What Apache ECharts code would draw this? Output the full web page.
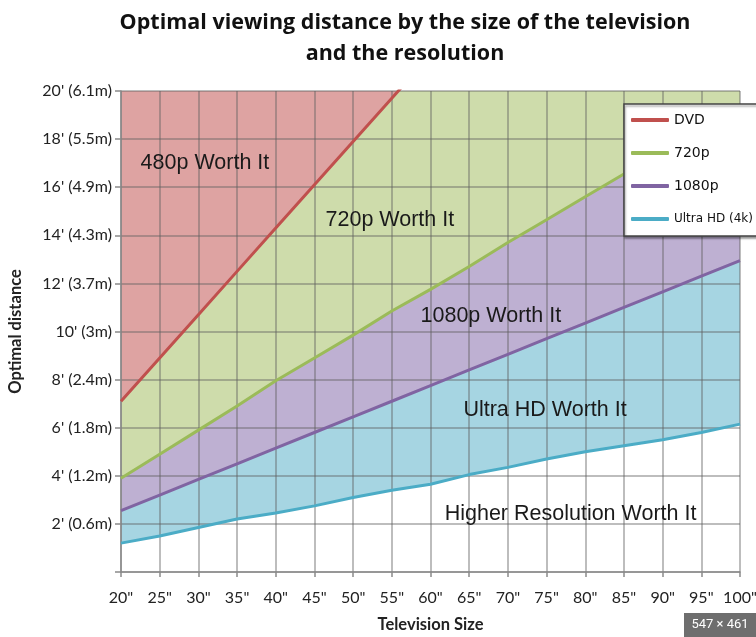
<!DOCTYPE html>
<html>
<head>
<meta charset="utf-8">
<script src="https://cdn.jsdelivr.net/npm/echarts@6/dist/echarts.min.js"></script>
<style>
  html, body { margin: 0; padding: 0; background: #ffffff; }
  #chart { width: 756px; height: 637px; }
</style>
</head>
<body>
<div id="chart"></div>
<script>
// Television size (inches)
const sizes = [20, 25, 30, 35, 40, 45, 50, 55, 60, 65, 70, 75, 80, 85, 90, 95, 100];
// Optimal distance (feet) for each resolution line
const dvd   = [7.1, 8.9, 10.7, 12.5, 14.3, 16.1, 17.9, 19.7, 21.5, null, null, null, null, null, null, null, null];
const p720  = [3.9, 4.9, 5.9, 6.9, 7.95, 8.9, 9.85, 10.85, 11.75, 12.7, 13.7, 14.65, 15.6, 16.55, 17.5, 18.45, 19.4];
const p1080 = [2.55, 3.2, 3.85, 4.5, 5.15, 5.8, 6.45, 7.1, 7.75, 8.4, 9.05, 9.7, 10.35, 11.0, 11.65, 12.3, 12.95];
const uhd   = [1.2, 1.5, 1.85, 2.2, 2.45, 2.75, 3.1, 3.4, 3.65, 4.05, 4.35, 4.7, 5.0, 5.25, 5.5, 5.8, 6.15];

const seriesNames = ['DVD', '720p', '1080p', 'Ultra HD (4k)'];
// Y tick labels keyed by feet
const yTickValues = [2, 4, 6, 8, 10, 12, 14, 16, 18, 20];
const yTickLabels = ["2' (0.6m)", "4' (1.2m)", "6' (1.8m)", "8' (2.4m)", "10' (3m)", "12' (3.7m)", "14' (4.3m)", "16' (4.9m)", "18' (5.5m)", "20' (6.1m)"];

// Region annotations [x inches, y feet]
const regionNames = ['480p Worth It', '720p Worth It', '1080p Worth It', 'Ultra HD Worth It', 'Higher Resolution Worth It'];
const regionX = [30.85, 54.75, 67.8, 74.8, 78.1];
const regionY = [17.0, 14.65, 10.65, 6.75, 2.42];

const zip = (vals) => sizes.map((s, i) => [s, vals[i]]);

const lineColors = ['#C0504D', '#9BBB59', '#8064A2', '#4BACC6'];
const fillRed = '#DEA3A2';
const fillGreen = '#CEDCAB';
const fillPurple = '#BEB0D2';
const fillBlue = '#A6D5E2';

const chart = echarts.init(document.getElementById('chart'), null, { renderer: 'canvas' });

const axisFont = 'Lato, "Open Sans", sans-serif';

const option = {
  animation: false,
  backgroundColor: '#ffffff',
  title: {
    text: 'Optimal viewing distance by the size of the television\nand the resolution',
    left: 400,
    top: 2,
    textAlign: 'center',
    textStyle: {
      fontFamily: '"Open Sans", Lato, sans-serif',
      fontWeight: 'bold',
      fontSize: 21.5,
      lineHeight: 31,
      color: '#111111'
    }
  },
  grid: {
    left: 121, top: 91, width: 619, height: 481,
    outerBoundsMode: 'none',
    containLabel: false,
    show: true, backgroundColor: fillGreen, borderWidth: 0
  },
  legend: {
    data: seriesNames,
    orient: 'vertical',
    left: 624,
    top: 104,
    padding: [8, 40, 9, 7],
    itemWidth: 38,
    itemHeight: 4,
    itemGap: 17,
    icon: 'roundRect',
    backgroundColor: '#ffffff',
    borderColor: '#444444',
    borderWidth: 1.5,
    borderRadius: 0,
    shadowColor: 'rgba(0,0,0,0.35)',
    shadowBlur: 2,
    shadowOffsetX: 1,
    shadowOffsetY: 2,
    selectedMode: false,
    formatter: function (name) {
      return name === 'Ultra HD (4k)' ? '{s|' + name + '}' : name;
    },
    textStyle: {
      fontFamily: '"DejaVu Sans", sans-serif',
      fontSize: 14,
      lineHeight: 16,
      color: '#111111',
      rich: {
        s: { fontFamily: '"DejaVu Sans", sans-serif', fontSize: 12, lineHeight: 16, color: '#111111' }
      }
    }
  },
  xAxis: {
    type: 'value',
    min: 20, max: 100, interval: 5,
    z: 2,
    name: 'Television Size',
    nameLocation: 'middle',
    nameGap: 44,
    nameTextStyle: { fontFamily: axisFont, fontWeight: 'bold', fontSize: 16.5, color: '#222' },
    axisLine: { show: true, lineStyle: { color: '#8a8a8a', width: 1.5 } },
    axisTick: { show: true, length: 5, lineStyle: { color: '#8a8a8a', width: 1.5 } },
    axisLabel: {
      margin: 18,
      fontFamily: axisFont,
      fontSize: 16,
      color: '#222',
      hideOverlap: false,
      formatter: v => v + '"'
    },
    splitLine: { show: true, lineStyle: { color: 'rgba(95,95,95,0.55)', width: 1.5 } }
  },
  yAxis: {
    type: 'value',
    min: 0, max: 20, interval: 2,
    z: 2,
    name: 'Optimal distance',
    nameLocation: 'middle',
    nameGap: 97,
    nameTextStyle: { fontFamily: axisFont, fontWeight: 'bold', fontSize: 16.5, color: '#222' },
    axisLine: { show: true, lineStyle: { color: '#8a8a8a', width: 1.5 } },
    axisTick: { show: true, length: 6, lineStyle: { color: '#8a8a8a', width: 1.5 } },
    axisLabel: {
      margin: 9,
      fontFamily: axisFont,
      fontSize: 16,
      color: '#222',
      formatter: v => {
        const i = yTickValues.indexOf(v);
        return i >= 0 ? yTickLabels[i] : '';
      }
    },
    splitLine: { show: true, lineStyle: { color: 'rgba(95,95,95,0.55)', width: 1.5 } }
  },
  series: [
    // Areas
    { name: 'areaDVD', type: 'line', data: zip(dvd), symbol: 'none', z: 1,
      lineStyle: { width: 0 }, areaStyle: { color: fillRed, opacity: 1, origin: 'end' } },
    { name: 'area720', type: 'line', data: zip(p720), symbol: 'none', z: 1,
      lineStyle: { width: 0 }, areaStyle: { color: fillPurple, opacity: 1, origin: 'start' } },
    { name: 'area1080', type: 'line', data: zip(p1080), symbol: 'none', z: 1,
      lineStyle: { width: 0 }, areaStyle: { color: fillBlue, opacity: 1, origin: 'start' } },
    { name: 'areaUHD', type: 'line', data: zip(uhd), symbol: 'none', z: 1,
      lineStyle: { width: 0 }, areaStyle: { color: '#ffffff', opacity: 1, origin: 'start' },
      markPoint: {
        symbol: 'circle', symbolSize: 0,
        label: {
          show: true, position: 'inside',
          fontFamily: '"Liberation Sans", Arial, sans-serif',
          fontSize: 21.5, color: '#1a1a1a',
          formatter: p => p.name
        },
        data: regionNames.map((n, i) => ({ name: n, coord: [regionX[i], regionY[i]] }))
      } },
    // Lines
    ...[dvd, p720, p1080, uhd].map((vals, i) => ({
      name: seriesNames[i], type: 'line', data: zip(vals), symbol: 'none', showSymbol: false, z: 3,
      color: lineColors[i],
      lineStyle: { width: 3, color: lineColors[i] }
    }))
  ],
  graphic: [
    {
      type: 'group', right: 0, bottom: 0,
      children: [
        { type: 'rect', shape: { x: 0, y: 0, width: 72, height: 24 }, style: { fill: '#6e6e6e' } },
        { type: 'text', x: 36, y: 12, style: { text: '547 × 461', fill: '#ffffff', font: '13px Roboto, sans-serif', textAlign: 'center', textVerticalAlign: 'middle' } }
      ]
    }
  ]
};

chart.setOption(option);
</script>
</body>
</html>
